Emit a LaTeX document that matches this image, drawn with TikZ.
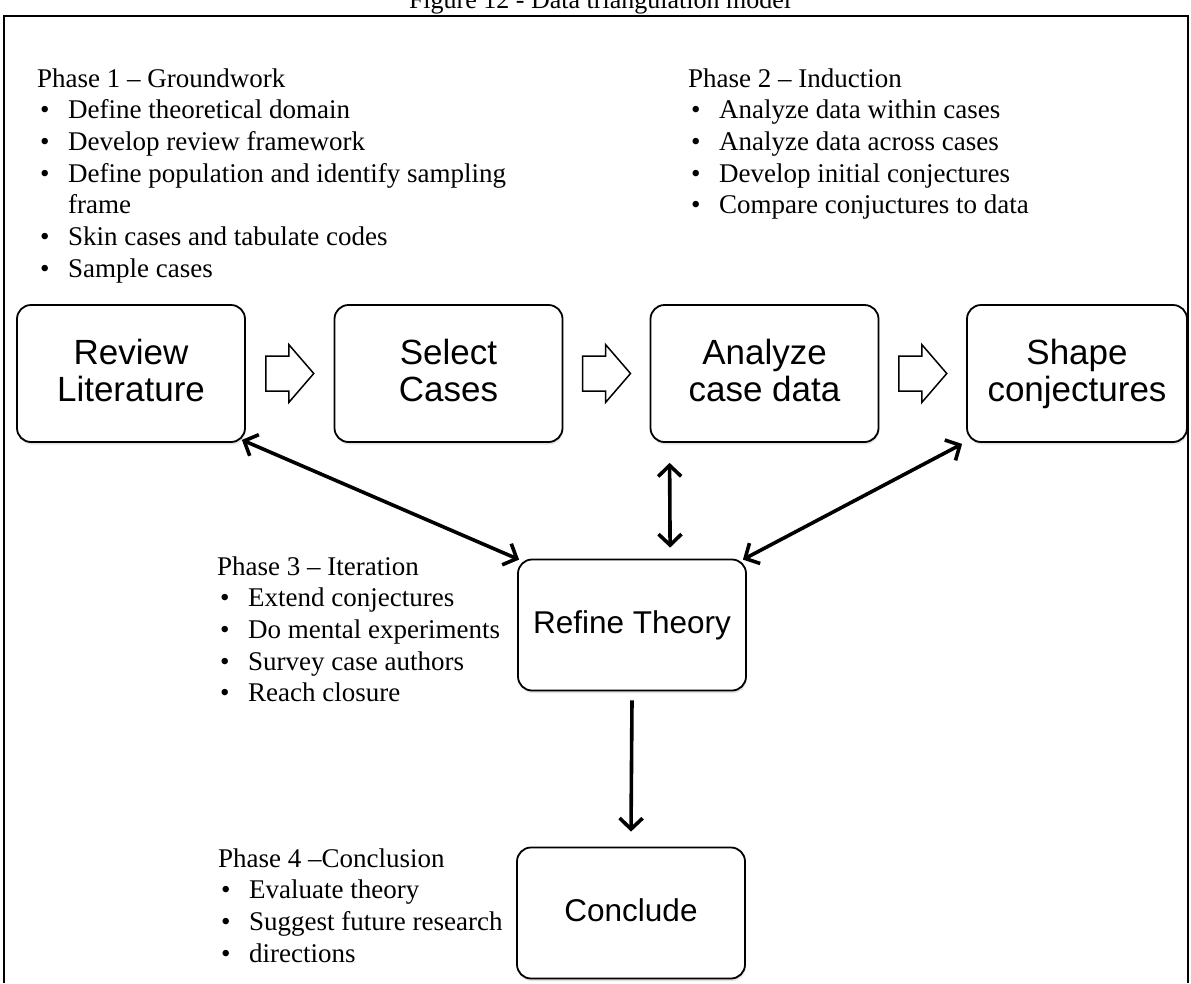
\documentclass[tikz,border=0pt]{standalone}
\usepackage{fontspec}
\setmainfont{Liberation Serif}
\newfontfamily\arialf{Liberation Sans}
\usetikzlibrary{arrows.meta,shadows,calc}
\newcommand{\bl}[1]{\\\hspace*{3pt}\makebox[28pt][l]{\textbullet}#1}
\newcommand{\phasefont}{\fontsize{27}{31.7}\selectfont}
\begin{document}
\begin{tikzpicture}[x=1pt,y=-1pt,
  box/.style={draw=black, line width=1.8pt, rounded corners=14pt, fill=white,
    drop shadow={shadow xshift=0.8pt, shadow yshift=-2.5pt, opacity=0.22},
    align=center, inner sep=0pt, minimum width=228pt},
  topbox/.style={box, minimum height=137pt, font=\arialf\fontsize{35}{37}\selectfont},
  lowbox/.style={box, minimum height=131pt, font=\arialf\fontsize{31.5}{34}\selectfont},
  conn/.style={line width=3.6pt, {Straight Barb[length=11pt,width=23pt]}-{Straight Barb[length=11pt,width=23pt]}},
  oneway/.style={line width=3.6pt, -{Straight Barb[length=11pt,width=23pt]}},
  blockarrow/.style={draw=black, line width=1.5pt, fill=white, line join=miter},
  txt/.style={inner sep=0pt, anchor=base west}]
\useasboundingbox (0,0) rectangle (1191,983);
\fill[white] (0,0) rectangle (1191,983);

% frame and title
\draw[line width=2pt] (4,983) -- (4,16) -- (1188,16) -- (1188,983);
\node[inner sep=0pt, anchor=base, font=\fontsize{26}{30}\selectfont] (title) at (600,8) {Figure 12 - Data triangulation model};

% boxes
\node[topbox] (rev) at (131,373.5) {Review\\Literature\vphantom{j}};
\node[topbox] (sel) at (448.5,373.5) {Select\\Cases\vphantom{j}};
\node[topbox] (ana) at (764.5,373.5) {Analyze\\case data\vphantom{j}};
\node[topbox, minimum width=220pt] (shp) at (1077,373.5) {Shape\\conjectures};
\node[lowbox] (ref) at (632,625) {Refine Theory};
\node[lowbox] (con) at (631,913) {Conclude\vphantom{y}};

% block arrows
\foreach \a/\b in {rev/sel, sel/ana, ana/shp}{
  \draw[blockarrow] ($(\a.east)!0.5!(\b.west)$) ++(-24,-17.5) -- ++(23,0) -- ++(0,-11.5)
    -- ++(25,29) -- ++(-25,29) -- ++(0,-11.5) -- ++(-23,0) -- cycle;
}

% connectors
\draw[conn] ($(rev.south east)+(-4,-3)$) -- ($(ref.north west)+(2,1)$);
\draw[conn] ($(ana.south west)+(20,20)$) -- ($(ref.north west)+(153,-11)$);
\draw[conn] ($(shp.south west)+(-4,1)$) -- ($(ref.north east)+(-4,1)$);
\draw[oneway] ($(ref.south)+(0,9)$) -- ($(con.north)+(0,-15)$);

% phase texts
\node[txt] (ph1) at (37,87) {\parbox[t]{520pt}{\phasefont
  Phase 1 – Groundwork
  \bl{Define theoretical domain}
  \bl{Develop review framework}
  \bl{Define population and identify sampling}
  \\\hspace*{31pt}frame
  \bl{Skin cases and tabulate codes}
  \bl{Sample cases}}};
\node[txt] (ph2) at (688,87) {\parbox[t]{480pt}{\phasefont
  Phase 2 – Induction
  \bl{Analyze data within cases}
  \bl{Analyze data across cases}
  \bl{Develop initial conjectures}
  \bl{Compare conjuctures to data}}};
\node[txt] (ph3) at (217,575) {\parbox[t]{300pt}{\phasefont
  Phase 3 – Iteration
  \bl{Extend conjectures}
  \bl{Do mental experiments}
  \bl{Survey case authors}
  \bl{Reach closure}}};
\node[txt] (ph4) at (218,867) {\parbox[t]{300pt}{\phasefont
  Phase 4 –Conclusion
  \bl{Evaluate theory}
  \bl{Suggest future research}
  \bl{directions}}};
\end{tikzpicture}
\end{document}
